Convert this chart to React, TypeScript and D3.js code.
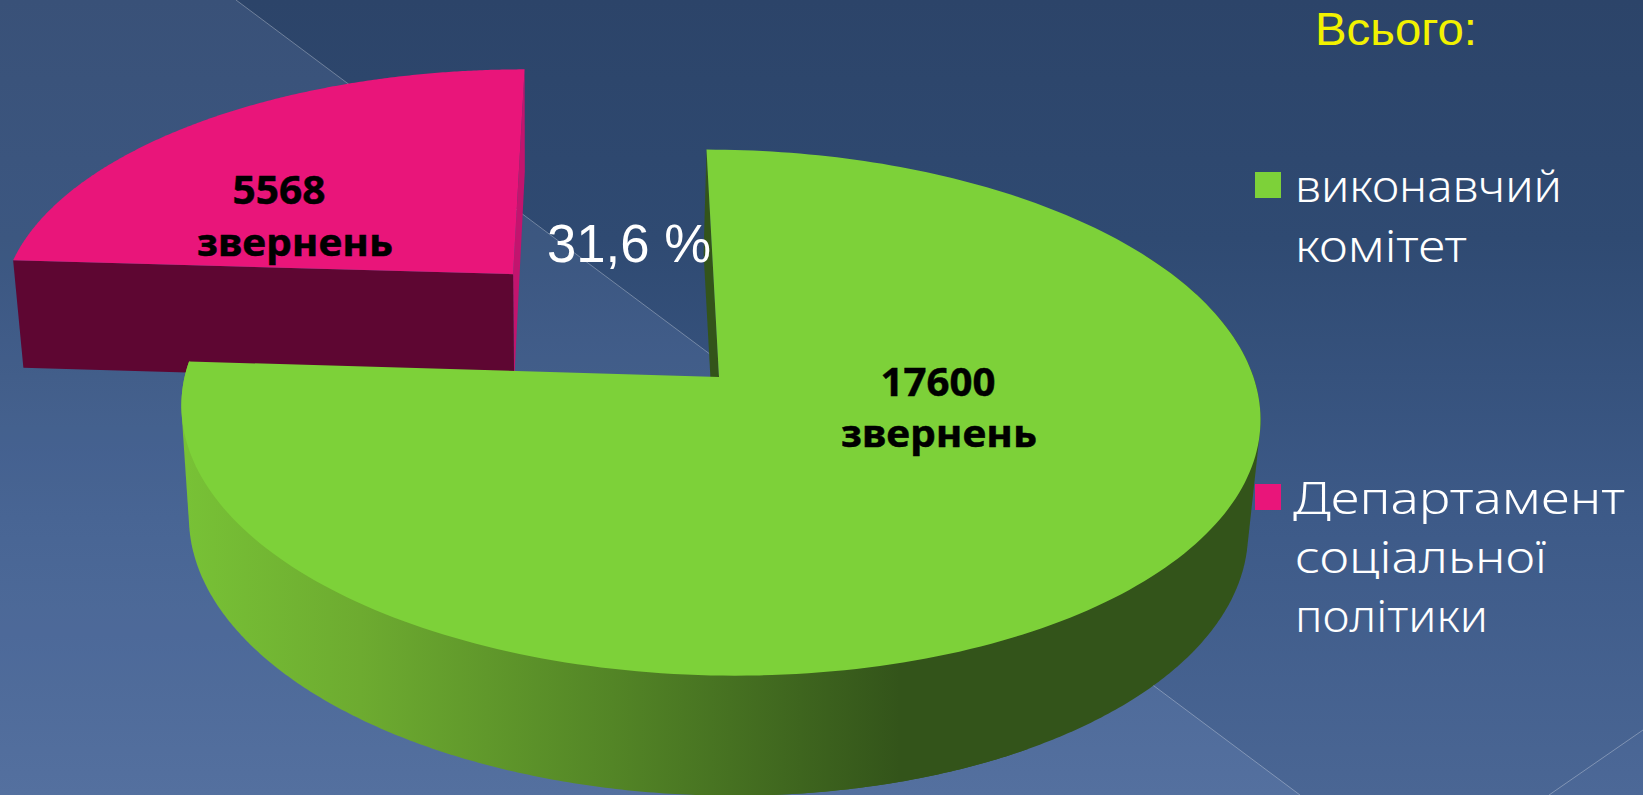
import React from "react";
import * as d3 from "d3";

const categories = ["виконавчий комітет", "Департамент соціальної політики"];
const values = [17600, 5568];
const colors = ["#7dd139", "#e9157a"];
const legendLines = [["виконавчий", "комітет"], ["Департамент", "соціальної", "політики"]];
const sliceCaption = "звернень";
const title = "Всього:";
const shareLabel = "31,6 %";

const W = 1643;
const H = 795;
const TOP = { cx: 719, cy: 377, rx: 534.4, ry: 258.2 };
const BOTTOM = { cx: 716.5, cy: 488, rx: 524.5, ry: 266 };
const K = 0.1355;
const SHEAR = 0.055;
const EXPLODE = 0.578;

type Plane = typeof TOP;
const project = (x: number, y: number, p: Plane): [number, number] => {
  const w = 1 - K * y;
  const dY = (p.ry * y) / w;
  return [p.cx + (p.rx * x) / w + SHEAR * dY, p.cy + dY];
};

const pie = d3.pie<number>().sort(null);
const arcs = pie(values);
const line = d3.line();

const disc = (a: number, off: [number, number]): [number, number] => [Math.sin(a) + off[0], -Math.cos(a) + off[1]];
const rim = (a0: number, a1: number, off: [number, number], p: Plane) =>
  d3.range(0, 241).map((i) => {
    const [x, y] = disc(a0 + ((a1 - a0) * i) / 240, off);
    return project(x, y, p);
  });

const offsets = arcs.map((a, i): [number, number] => {
  if (i === 0) return [0, 0];
  const mid = (a.startAngle + a.endAngle) / 2;
  return [Math.sin(mid) * EXPLODE, -Math.cos(mid) * EXPLODE];
});

const face = (i: number, p: Plane) => {
  const a = arcs[i];
  const off = offsets[i];
  return line([project(off[0], off[1], p), ...rim(a.startAngle, a.endAngle, off, p)]) + "Z";
};
const radial = (i: number, angle: number) => {
  const off = offsets[i];
  const [x, y] = disc(angle, off);
  return (
    line([
      project(x, y, TOP),
      project(off[0], off[1], TOP),
      project(off[0], off[1], BOTTOM),
      project(x, y, BOTTOM),
    ]) + "Z"
  );
};
// Outer wall: hulls of the near part of both rims, with their tangent edges.
// Two overlapping hulls, so that no chord crosses the slice's notch.
const wall = (i: number, a0: number, a1: number) => {
  const off = offsets[i];
  const hull = d3.polygonHull([...rim(a0, a1, off, TOP), ...rim(a0, a1, off, BOTTOM)]);
  return line(hull as [number, number][]) + "Z";
};

const F_LEGEND = "'Noto Sans', sans-serif";
const F_ARIAL = "'Liberation Sans', sans-serif";

export default function App() {
  return (
    <svg width={W} height={H} viewBox={`0 0 ${W} ${H}`} style={{ position: "fixed", left: 0, top: 0, display: "block" }}>
      <defs>
        <linearGradient id="bg" x1="0" y1="0" x2="0" y2="1">
          <stop offset="0" stopColor="#2c4469" />
          <stop offset="0.3" stopColor="#2f4a72" />
          <stop offset="0.65" stopColor="#3d5a88" />
          <stop offset="1" stopColor="#4a6694" />
        </linearGradient>
        <linearGradient id="wallGrad" gradientUnits="userSpaceOnUse" x1="181" y1="0" x2="900" y2="0">
          <stop offset="0" stopColor="#78c236" />
          <stop offset="0.25" stopColor="#6dab30" />
          <stop offset="0.6" stopColor="#538526" />
          <stop offset="1" stopColor="#33541a" />
        </linearGradient>
      </defs>
      <rect width={W} height={H} fill="url(#bg)" />
      <polygon points="0,0 236,0 1300,795 0,795" fill="#a8c8ff" opacity={0.105} />
      <line x1="236" y1="0" x2="1300" y2="795" stroke="#ffffff" strokeOpacity={0.3} strokeWidth={1} />
      <polygon points="1549,795 1643,730 1643,795" fill="#a8c8ff" opacity={0.03} />
      <line x1="1549" y1="795" x2="1643" y2="730" stroke="#ffffff" strokeOpacity={0.3} strokeWidth={1} />

      {/* exploded slice */}
      <path d={radial(1, arcs[1].endAngle)} fill="#c2146e" />
      <path d={radial(1, arcs[1].startAngle)} fill="#5e0632" />
      <path d={face(1, TOP)} fill={colors[1]} />

      {/* main slice */}
      <path d={radial(0, arcs[0].startAngle)} fill="#33541a" />
      <path d={wall(0, Math.PI / 3, Math.PI)} fill="url(#wallGrad)" />
      <path d={wall(0, (5 * Math.PI) / 6, arcs[0].endAngle)} fill="url(#wallGrad)" />
      <path d={face(0, TOP)} fill={colors[0]} />

      <g fontFamily={F_LEGEND} fontWeight={700} fill="#000" stroke="#000" strokeWidth={0.5} textAnchor="middle">
        <text x={279} y={204} fontSize={40} textLength={93} lengthAdjust="spacingAndGlyphs">{values[1]}</text>
        <text x={295} y={256} fontSize={38} textLength={196} lengthAdjust="spacingAndGlyphs">{sliceCaption}</text>
        <text x={938} y={396} fontSize={40} textLength={115} lengthAdjust="spacingAndGlyphs">{values[0]}</text>
        <text x={939} y={447} fontSize={38} textLength={196} lengthAdjust="spacingAndGlyphs">{sliceCaption}</text>
      </g>

      <text x={547} y={262} fontFamily={F_ARIAL} fontSize={53} fill="#fff" textLength={164} lengthAdjust="spacingAndGlyphs">{shareLabel}</text>
      <text x={1315} y={45} fontFamily={F_ARIAL} fontSize={46} fill="#f2f200" textLength={162} lengthAdjust="spacingAndGlyphs">{title}</text>

      <g aria-label={categories.join(", ")}>
        <rect x={1255} y={172} width={26} height={26} fill={colors[0]} />
        <rect x={1255} y={484} width={26} height={26} fill={colors[1]} />
      </g>
      <g fontFamily={F_LEGEND} fontWeight={300} fontSize={44} fill="#fff">
        <text x={1295} y={202} textLength={267} lengthAdjust="spacingAndGlyphs">{legendLines[0][0]}</text>
        <text x={1295} y={262} textLength={172} lengthAdjust="spacingAndGlyphs">{legendLines[0][1]}</text>
        <text x={1293} y={514} textLength={332} lengthAdjust="spacingAndGlyphs">{legendLines[1][0]}</text>
        <text x={1295} y={573} textLength={252} lengthAdjust="spacingAndGlyphs">{legendLines[1][1]}</text>
        <text x={1295} y={632} textLength={193} lengthAdjust="spacingAndGlyphs">{legendLines[1][2]}</text>
      </g>
    </svg>
  );
}
